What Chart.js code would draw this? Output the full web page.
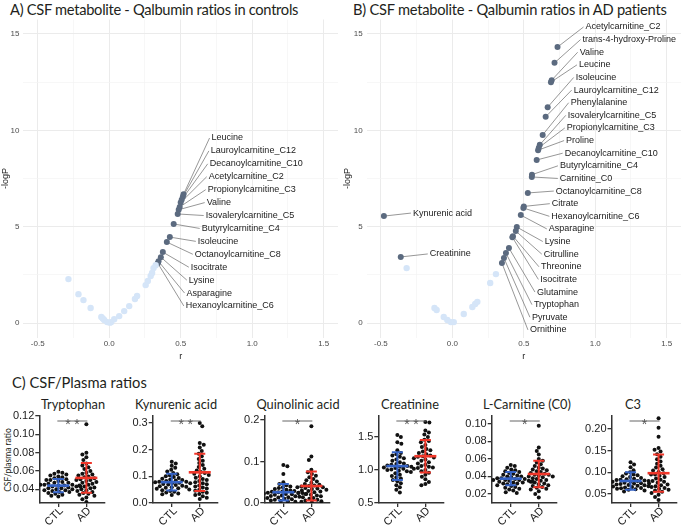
<!DOCTYPE html>
<html><head><meta charset="utf-8">
<script src="https://cdn.jsdelivr.net/npm/chart.js@4.4.1/dist/chart.umd.min.js"></script>
<style>
body{margin:0;background:#fff;}
#wrap{position:relative;width:685px;height:529px;overflow:hidden;font-family:Lato,"Open Sans",sans-serif;color:#231f20;}
canvas{position:absolute;}
.t{position:absolute;white-space:nowrap;line-height:1;}
.c{transform:translateX(-50%);}
.g{position:absolute;white-space:nowrap;line-height:1;font-size:11px;font-family:'Liberation Sans',Arial,sans-serif;color:#222;transform-origin:100% 50%;transform:translate(-100%,-50%) rotate(-45deg);}
</style></head><body><div id="wrap">
<div class="t" style="left:10px;top:2px;font-size:14.7px;letter-spacing:-0.3px;">A) CSF metabolite - Qalbumin ratios in controls</div>
<div class="t" style="left:353px;top:2px;font-size:14.7px;letter-spacing:-0.25px;">B) CSF metabolite - Qalbumin ratios in AD patients</div>
<div class="t" style="left:12px;top:375px;font-size:14.7px;">C) CSF/Plasma ratios</div>
<div id="subTitles"></div>
<div class="t" style="left:8px;top:460px;font-size:8.5px;transform:translate(-50%,-50%) rotate(-90deg);">CSF/plasma ratio</div>
<canvas id="cA" width="342" height="362" style="left:0;top:0;width:342px;height:362px"></canvas>
<canvas id="cB" width="343" height="362" style="left:342px;top:0;width:343px;height:362px"></canvas>
</div>
<script>
// ---------- Panel A: controls ----------
const ctlSigNames = ['Leucine','Lauroylcarnitine_C12','Decanoylcarnitine_C10','Acetylcarnitine_C2','Propionylcarnitine_C3','Valine','Isovalerylcarnitine_C5','Butyrylcarnitine_C4','Isoleucine','Octanoylcarnitine_C8','Isocitrate','Lysine','Asparagine','Hexanoylcarnitine_C6'];
const ctlSigR    = [0.52,0.515,0.507,0.50,0.493,0.486,0.479,0.451,0.424,0.403,0.375,0.361,0.345,0.34];
const ctlSigLogP = [6.68,6.55,6.4,6.25,6.02,5.88,5.66,5.14,4.46,4.2,3.68,3.42,3.2,3.1];
const ctlNsR     = [-0.285,-0.215,-0.18,-0.13,-0.055,-0.045,-0.035,-0.014,0.005,0.014,0.035,0.07,0.105,0.14,0.18,0.195,0.255,0.27,0.29,0.3,0.31,0.325];
const ctlNsLogP  = [2.28,1.5,1.19,0.78,0.31,0.24,0.16,0.05,0.02,0.05,0.2,0.36,0.62,0.88,1.25,1.4,1.97,2.18,2.44,2.6,2.85,3.0];
// ---------- Panel B: AD patients ----------
const adSigNames = ['Acetylcarnitine_C2','trans-4-hydroxy-Proline','Valine','Leucine','Isoleucine','Lauroylcarnitine_C12','Phenylalanine','Isovalerylcarnitine_C5','Propionylcarnitine_C3','Proline','Decanoylcarnitine_C10','Butyrylcarnitine_C4','Carnitine_C0','Octanoylcarnitine_C8','Citrate','Hexanoylcarnitine_C6','Asparagine','Lysine','Citrulline','Threonine','Isocitrate','Glutamine','Tryptophan','Pyruvate','Ornithine','Kynurenic acid','Creatinine'];
const adSigR    = [0.736,0.715,0.695,0.69,0.667,0.653,0.632,0.612,0.605,0.60,0.59,0.557,0.556,0.528,0.50,0.497,0.479,0.451,0.444,0.424,0.42,0.396,0.375,0.361,0.347,-0.479,-0.361];
const adSigLogP = [14.32,13.5,12.6,12.5,11.2,10.7,9.76,9.25,9.1,8.97,8.46,7.7,7.58,6.75,6.05,5.97,5.6,4.98,4.77,4.51,4.45,3.89,3.63,3.37,3.11,5.55,3.43];
const adNsR     = [-0.32,-0.125,-0.11,-0.06,-0.035,-0.01,0.01,0.08,0.14,0.16,0.175,0.265,0.305];
const adNsLogP  = [2.85,0.78,0.68,0.31,0.16,0.05,0.05,0.47,0.83,0.99,1.1,2.08,2.54];
const rTicks    = [-0.5,-0.25,0,0.25,0.5,0.75,1,1.25,1.5];
const logPTicks = [0,2.5,5,7.5,10,12.5,15];

// ---------- Panel C: CSF/plasma ratios ----------
const panelTitles = ['Tryptophan','Kynurenic acid','Quinolinic acid','Creatinine','L-Carnitine (C0)','C3'];
const groups = ['CTL','AD'];
const stars = ['**','**','*','**','*','*'];
const trpCtl = [0.059,0.058,0.057,0.056,0.055,0.054,0.053,0.052,0.051,0.050,0.050,0.049,0.048,0.047,0.047,0.046,0.045,0.045,0.044,0.044,0.043,0.043,0.042,0.042,0.041,0.041,0.040,0.040,0.039,0.039,0.038,0.037,0.037,0.036,0.035,0.034,0.033,0.032,0.045,0.043];
const trpAd  = [0.111,0.080,0.078,0.075,0.072,0.068,0.066,0.064,0.062,0.060,0.058,0.057,0.056,0.055,0.054,0.053,0.052,0.051,0.050,0.049,0.048,0.047,0.046,0.045,0.044,0.043,0.042,0.041,0.040,0.039,0.038,0.037,0.036,0.035,0.034,0.033,0.031,0.029,0.026,0.050];
const kynCtl = [0.155,0.148,0.140,0.132,0.125,0.118,0.112,0.108,0.104,0.100,0.097,0.094,0.091,0.088,0.086,0.084,0.082,0.080,0.078,0.076,0.075,0.073,0.071,0.069,0.067,0.065,0.063,0.061,0.059,0.057,0.055,0.053,0.051,0.048,0.045,0.042,0.039,0.036,0.033,0.030,0.080,0.074];
const kynAd  = [0.300,0.288,0.225,0.218,0.208,0.195,0.185,0.175,0.165,0.158,0.150,0.142,0.135,0.128,0.122,0.116,0.110,0.105,0.100,0.095,0.090,0.086,0.082,0.078,0.074,0.070,0.066,0.062,0.058,0.054,0.050,0.046,0.042,0.038,0.034,0.030,0.025,0.020,0.015,0.112];
const quiCtl = [0.092,0.089,0.070,0.050,0.046,0.043,0.040,0.038,0.036,0.034,0.032,0.030,0.029,0.028,0.027,0.026,0.025,0.024,0.023,0.022,0.021,0.020,0.019,0.018,0.017,0.016,0.015,0.014,0.013,0.012,0.011,0.010,0.009,0.008,0.006,0.005,0.004,0.003,0.025,0.022];
const quiAd  = [0.185,0.112,0.104,0.080,0.074,0.070,0.066,0.062,0.058,0.055,0.052,0.049,0.046,0.044,0.042,0.040,0.038,0.036,0.034,0.032,0.030,0.028,0.026,0.024,0.022,0.020,0.018,0.016,0.014,0.012,0.010,0.008,0.006,0.004,0.003,0.002,0.038,0.035,0.041,0.029];
const creCtl = [1.53,1.50,1.42,1.40,1.30,1.26,1.24,1.22,1.20,1.18,1.16,1.14,1.12,1.10,1.09,1.08,1.07,1.06,1.05,1.04,1.03,1.02,1.01,1.00,0.99,0.98,0.97,0.95,0.93,0.91,0.89,0.87,0.85,0.83,0.80,0.77,0.74,0.70,0.66,1.05];
const creAd  = [1.73,1.72,1.60,1.57,1.54,1.50,1.46,1.44,1.42,1.38,1.35,1.32,1.30,1.28,1.26,1.24,1.22,1.20,1.19,1.18,1.16,1.14,1.12,1.10,1.08,1.06,1.05,1.04,1.03,1.02,1.00,0.98,0.96,0.93,0.90,0.86,0.82,0.79,0.77,1.21];
const carCtl = [0.053,0.052,0.050,0.048,0.047,0.046,0.045,0.044,0.043,0.042,0.041,0.040,0.040,0.039,0.038,0.038,0.037,0.037,0.036,0.036,0.035,0.035,0.034,0.034,0.033,0.033,0.032,0.032,0.031,0.030,0.029,0.028,0.027,0.026,0.025,0.024,0.022,0.021,0.036,0.035];
const carAd  = [0.098,0.073,0.069,0.065,0.060,0.058,0.056,0.054,0.052,0.050,0.049,0.048,0.047,0.046,0.045,0.044,0.043,0.042,0.041,0.040,0.040,0.039,0.038,0.037,0.036,0.035,0.034,0.033,0.032,0.031,0.030,0.029,0.028,0.027,0.026,0.025,0.023,0.020,0.016,0.042];
const c3Ctl  = [0.123,0.118,0.112,0.105,0.100,0.097,0.095,0.093,0.091,0.089,0.087,0.085,0.084,0.083,0.082,0.081,0.080,0.079,0.078,0.077,0.076,0.075,0.074,0.073,0.072,0.071,0.070,0.069,0.068,0.067,0.066,0.065,0.064,0.063,0.062,0.061,0.060,0.058,0.056,0.080];
const c3Ad   = [0.225,0.203,0.182,0.156,0.152,0.148,0.142,0.136,0.130,0.125,0.120,0.115,0.111,0.107,0.104,0.101,0.098,0.095,0.092,0.089,0.086,0.083,0.080,0.078,0.076,0.074,0.072,0.070,0.068,0.066,0.064,0.062,0.060,0.058,0.055,0.052,0.048,0.043,0.036,0.095];
const ctlMeans = [0.044,0.078,0.026,1.06,0.0375,0.080];
const ctlSds   = [0.0072,0.0315,0.020,0.21,0.0076,0.020];
const adMeans  = [0.0524,0.115,0.041,1.21,0.0428,0.098];
const adSds    = [0.0163,0.070,0.035,0.247,0.015,0.043];
const yMins  = [0.025,0,0,0.5,0.0097,0.0292];
const yMaxs  = [0.12,0.326,0.21,1.82,0.109,0.23];
const yTickSets = [[0.04,0.06,0.08,0.10,0.12],[0,0.1,0.2,0.3],[0,0.1,0.2],[0.5,1.0,1.5],[0.02,0.04,0.06,0.08,0.10],[0.05,0.10,0.15,0.20]];
const yDecimals = [2,1,1,1,2,2];

Chart.defaults.font.family = "'Liberation Sans', Arial, sans-serif";

// ---------- label/leader plugin for volcano plots ----------
const repel = {
  id:'repel',
  beforeDatasetsDraw(chart, args, o){
    if(!o || !o.names) return;
    const meta = chart.getDatasetMeta(1), ca = chart.chartArea, ctx = chart.ctx;
    let k = 0; o._pos = [];
    meta.data.forEach((el,i)=>{
      let lx, ly;
      if (chart.data.datasets[1].data[i].x < 0) { lx = el.x + 29; ly = el.y - 3; }
      else { lx = el.x + o.dx; ly = ca.top + o.colTop + k*o.step; k++; }
      o._pos.push([lx,ly]);
    });
    ctx.save(); ctx.strokeStyle='#505050'; ctx.lineWidth=0.6;
    meta.data.forEach((el,i)=>{ const [lx,ly]=o._pos[i]; ctx.beginPath(); ctx.moveTo(lx-2,ly); ctx.lineTo(el.x,el.y); ctx.stroke(); });
    ctx.restore();
  },
  afterDatasetsDraw(chart, args, o){
    if(!o || !o.names) return;
    const ctx = chart.ctx; ctx.save();
    ctx.font = "9px 'Liberation Sans', Arial"; ctx.fillStyle='#1a1a1a'; ctx.textBaseline='middle'; ctx.textAlign='left';
    o.names.forEach((n,i)=>{ const [lx,ly]=o._pos[i]; ctx.fillText(n,lx,ly); });
    ctx.restore();
  }
};

function volcano(id, nsR, nsP, sR, sP, names, yW, padR, colTop, step) {
  const isMajX = v => Math.abs(v*2 - Math.round(v*2)) < 1e-6;
  const isMajY = v => Math.abs(v/5 - Math.round(v/5)) < 1e-6;
  return new Chart(document.getElementById(id), {
    type:'scatter',
    data:{datasets:[
      {data: nsR.map((r,i)=>({x:r,y:nsP[i]})), backgroundColor:'#d5e5f8', borderWidth:0, pointRadius:3.2},
      {data: sR.map((r,i)=>({x:r,y:sP[i]})), backgroundColor:'#5b6a7f', borderWidth:0, pointRadius:3}
    ]},
    options:{
      animation:false, responsive:false, devicePixelRatio:1, events:[],
      layout:{padding:{left:0,top:19.5,right:padR,bottom:0}},
      plugins:{legend:{display:false}, tooltip:{enabled:false},
        repel:{names:names, dx:28, colTop:colTop, step:step}},
      scales:{
        x:{type:'linear', min:-0.6, max:1.6,
          afterBuildTicks: s=>{ s.ticks = rTicks.map(v=>({value:v})); },
          afterFit: s=>{ s.height = 24.5; },
          ticks:{autoSkip:false, maxRotation:0, padding:1, color:'#4d4d4d', font:{size:8},
            callback: v => isMajX(v) ? v.toFixed(1) : ''},
          grid:{drawTicks:false, color: c => isMajX(c.tick.value)?'#ebebeb':'#f4f4f4', lineWidth: c => isMajX(c.tick.value)?1:0.7},
          border:{display:false},
          title:{display:true, text:'r', color:'#222', font:{size:9}, padding:{top:3,bottom:0}}},
        y:{type:'linear', min:-0.75, max:15.75,
          afterBuildTicks: s=>{ s.ticks = logPTicks.map(v=>({value:v})); },
          afterFit: s=>{ s.width = yW; },
          ticks:{autoSkip:false, padding:4, color:'#4d4d4d', font:{size:8},
            callback: v => isMajY(v) ? String(v) : ''},
          grid:{drawTicks:false, color: c => isMajY(c.tick.value)?'#ebebeb':'#f4f4f4', lineWidth: c => isMajY(c.tick.value)?1:0.7},
          border:{display:false},
          title:{display:true, text:'-logP', color:'#222', font:{size:9}, padding:{top:0,bottom:0}}}
      }
    },
    plugins:[repel]
  });
}
volcano('cA', ctlNsR, ctlNsLogP, ctlSigR, ctlSigLogP, ctlSigNames, 23.4, 1.1, 118.5, 12.92);
volcano('cB', adNsR, adNsLogP, adSigR, adSigLogP, adSigNames, 24.6, 1.1, 7.5, 12.62);

// ---------- dot plots ----------
const swarm = {
  id:'swarm',
  afterDatasetsUpdate(chart){
    chart.data.datasets.forEach((ds,di)=>{
      const els = chart.getDatasetMeta(di).data.slice().sort((a,b)=>a.y-b.y);
      const placed = []; const D = 4;
      els.forEach((el,n)=>{
        const cx = el.x; let best = cx;
        outer: for (let s=0; s<30; s+=0.5) {
          const signs = (n%2) ? [1,-1] : [-1,1];
          for (const sg of signs) {
            const xx = cx + sg*s;
            if (placed.every(p => (p.x-xx)*(p.x-xx) + (p.y-el.y)*(p.y-el.y) >= D*D)) { best = xx; break outer; }
          }
        }
        el.x = best; placed.push({x:best, y:el.y});
      });
    });
  }
};
const summary = {
  id:'summary',
  afterDatasetsDraw(chart, args, o){
    const ctx = chart.ctx, xs = chart.scales.x, ys = chart.scales.y, ca = chart.chartArea;
    ctx.save();
    o.groups.forEach((g,gi)=>{
      const px = xs.getPixelForValue(gi);
      const ym = ys.getPixelForValue(g.mean), yt = ys.getPixelForValue(g.mean+g.sd), yb = ys.getPixelForValue(g.mean-g.sd);
      ctx.strokeStyle = g.color; ctx.lineCap='butt';
      ctx.lineWidth = 2; ctx.beginPath(); ctx.moveTo(px,yt); ctx.lineTo(px,yb); ctx.stroke();
      ctx.beginPath(); ctx.moveTo(px-5.5,yt); ctx.lineTo(px+5.5,yt); ctx.moveTo(px-5.5,yb); ctx.lineTo(px+5.5,yb); ctx.stroke();
      ctx.lineWidth = 2.6; ctx.beginPath(); ctx.moveTo(px-11,ym); ctx.lineTo(px+11,ym); ctx.stroke();
    });
    const x0 = xs.getPixelForValue(0)-1, x1 = xs.getPixelForValue(1)+1, ly = ca.top + 5;
    ctx.strokeStyle = '#666'; ctx.lineWidth = 1;
    ctx.beginPath(); ctx.moveTo(x0,ly); ctx.lineTo(x1,ly); ctx.stroke();
    ctx.fillStyle = '#555'; ctx.font = "14px 'Liberation Sans', Arial"; ctx.textAlign='center'; ctx.textBaseline='alphabetic';
    const mid = (x0+x1)/2, n = o.stars.length;
    for (let i=0;i<n;i++) ctx.fillText('*', mid + (i-(n-1)/2)*9, ly+8);
    ctx.restore();
  }
};

const dotData = [[trpCtl,trpAd],[kynCtl,kynAd],[quiCtl,quiAd],[creCtl,creAd],[carCtl,carAd],[c3Ctl,c3Ad]];
const axisXs = [39.3,152.7,264.3,378.3,491.7,611.5];
const titleXs = [73,176,298,410,527,633];
const wrap = document.getElementById('wrap');
const TOP = 408;
dotData.forEach((pair,i)=>{
  const cv = document.createElement('canvas');
  const L = Math.round(axisXs[i]) - 36;
  cv.width = 107; cv.height = 121;
  cv.style.cssText = `left:${L}px;top:${TOP}px;width:107px;height:121px;`;
  wrap.appendChild(cv);
  const yW = axisXs[i] - L;
  const t = document.createElement('div');
  t.className = 't c'; t.textContent = panelTitles[i];
  t.style.cssText = `left:${titleXs[i]}px;top:398px;font-size:12.8px;`;
  document.getElementById('subTitles').appendChild(t);
  const ch = new Chart(cv, {
    type:'scatter',
    data:{datasets: pair.map((vals,g)=>({data: vals.map(v=>({x:g,y:v})), backgroundColor:'#111', borderWidth:0, pointRadius:2}))},
    options:{
      animation:false, responsive:false, devicePixelRatio:1, events:[],
      layout:{padding:{left:0,top:8,right:107-yW-65,bottom:0}},
      plugins:{legend:{display:false}, tooltip:{enabled:false},
        summary:{stars: stars[i], groups:[
          {mean: ctlMeans[i], sd: ctlSds[i], color:'#3563c6'},
          {mean: adMeans[i], sd: adSds[i], color:'#f0372a'}]}},
      scales:{
        x:{type:'linear', min:-0.68, max:1.64,
          afterBuildTicks: s=>{ s.ticks = groups.map((g,k)=>({value:k})); },
          afterFit: s=>{ s.height = 26; },
          ticks:{display:false},
          grid:{drawOnChartArea:false, drawTicks:true, tickLength:4, color:'#333', lineWidth:1.3},
          border:{display:true, color:'#333', width:1.5}},
        y:{type:'linear', min:yMins[i], max:yMaxs[i],
          afterBuildTicks: s=>{ s.ticks = yTickSets[i].map(v=>({value:v})); },
          afterFit: s=>{ s.width = yW; },
          ticks:{autoSkip:false, padding:1, color:'#222', font:{size:11},
            callback: v => v.toFixed(yDecimals[i])},
          grid:{drawOnChartArea:false, drawTicks:true, tickLength:4, color:'#333', lineWidth:1.3},
          border:{display:true, color:'#333', width:1.5}}
      }
    },
    plugins:[swarm, summary]
  });
  // rotated category labels placed at the library's tick positions
  groups.forEach((g,k)=>{
    const d = document.createElement('div');
    d.className = 'g'; d.textContent = g;
    d.style.left = (L + ch.scales.x.getPixelForValue(k) + 3) + 'px';
    d.style.top = (TOP + ch.chartArea.bottom + 6) + 'px';
    wrap.appendChild(d);
  });
});
</script>
</body></html>
